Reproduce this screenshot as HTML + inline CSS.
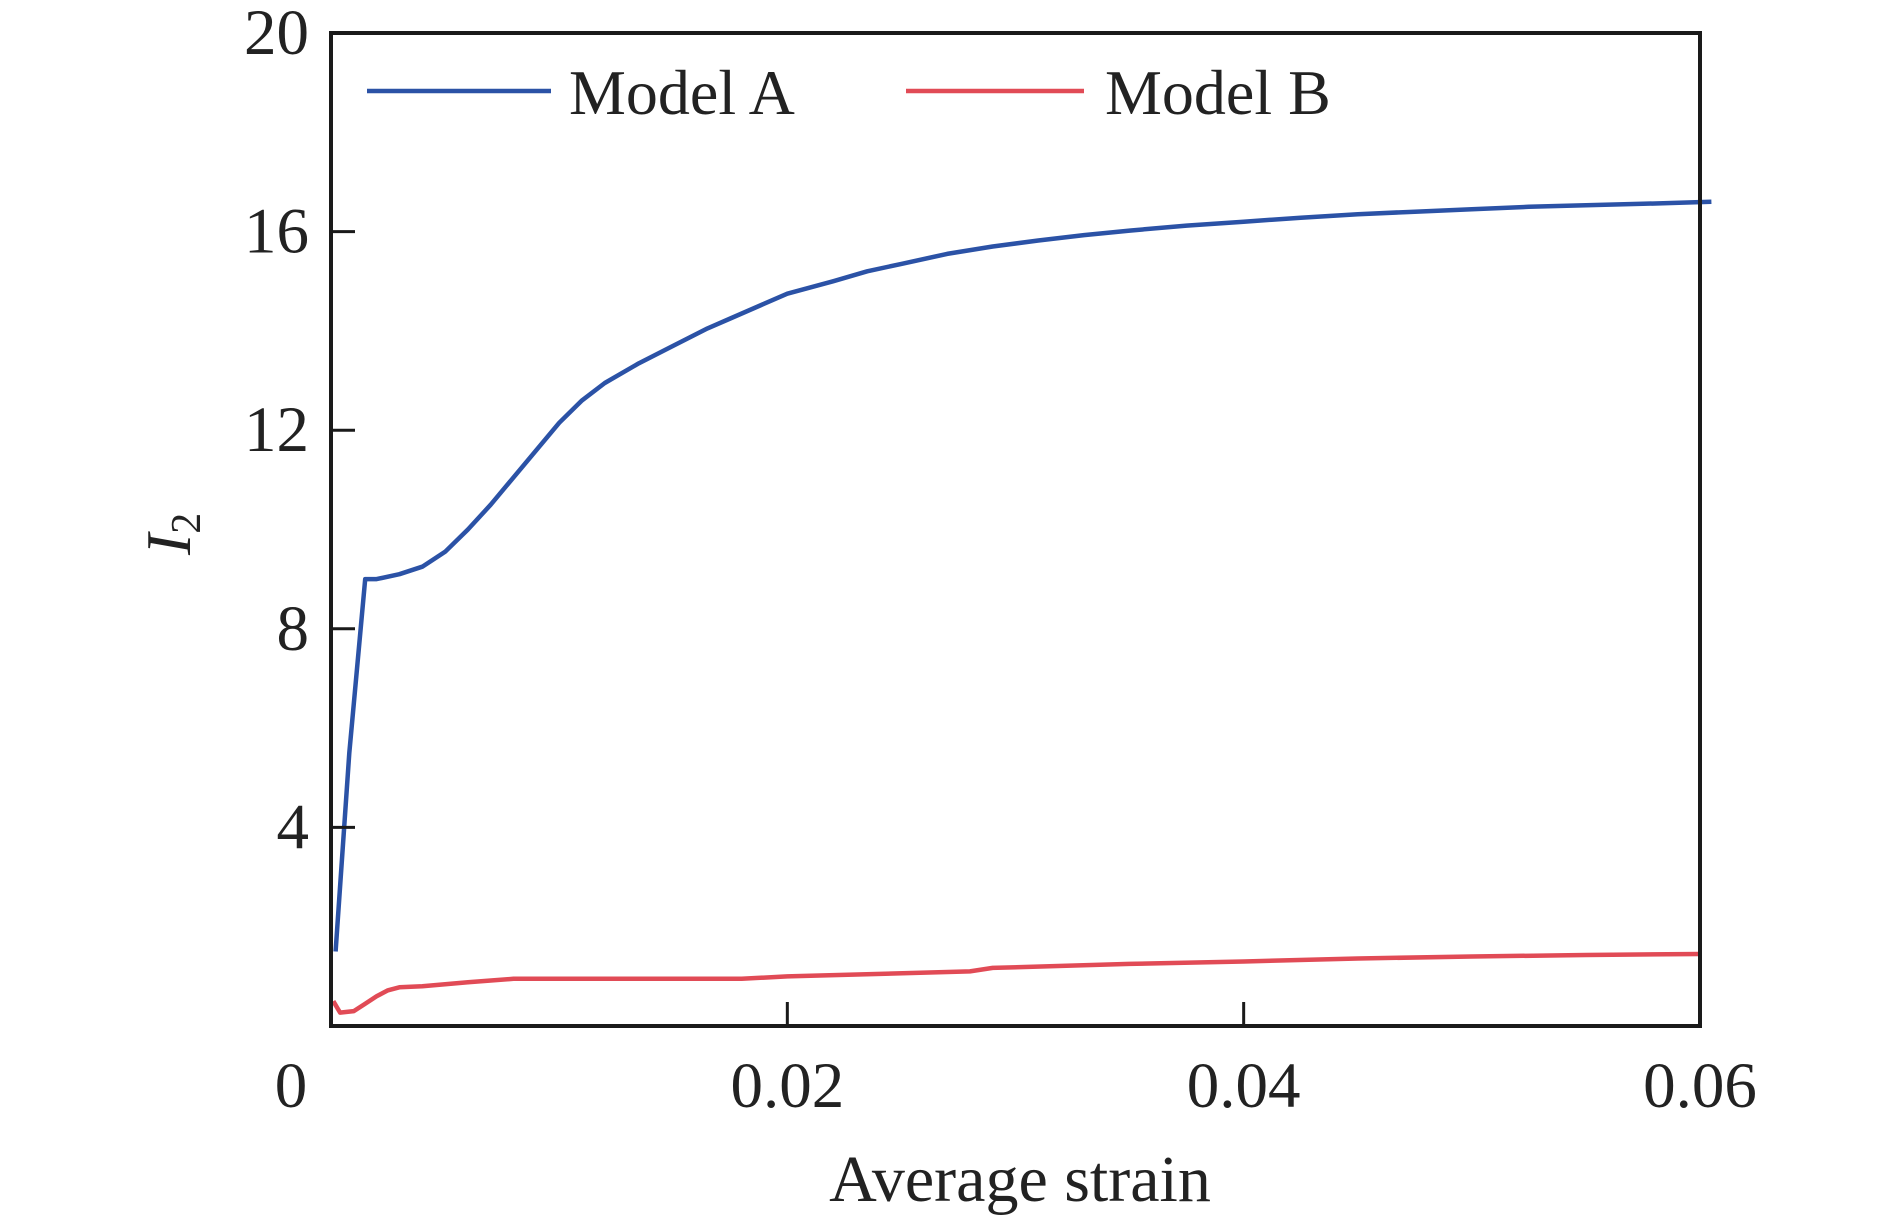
<!DOCTYPE html>
<html><head><meta charset="utf-8"><style>
html,body{margin:0;padding:0;background:#fff;}
svg{display:block;font-family:"Liberation Serif",serif;}
</style></head><body>
<svg id="chart" width="1890" height="1216" viewBox="0 0 1890 1216" xmlns="http://www.w3.org/2000/svg"></svg>
<script>
const xTicks=[0,0.02,0.04,0.06];
const xTickLabels=["0","0.02","0.04","0.06"];
const yTicks=[4,8,12,16,20];
const yTickLabels=["4","8","12","16","20"];
const strainA=[0.0002,0.0008,0.0015,0.002,0.003,0.004,0.005,0.006,0.007,0.008,0.009,0.01,0.011,0.012,0.0135,0.015,0.0165,0.0175,0.019,0.02,0.022,0.0235,0.025,0.027,0.029,0.031,0.033,0.035,0.0375,0.04,0.0425,0.045,0.0475,0.05,0.0525,0.055,0.0575,0.0605];
const modelA=[1.5,5.5,9.0,9.0,9.1,9.25,9.55,10.0,10.5,11.05,11.6,12.15,12.6,12.95,13.35,13.7,14.05,14.25,14.55,14.75,15.0,15.2,15.35,15.55,15.7,15.82,15.93,16.02,16.12,16.2,16.28,16.35,16.4,16.45,16.5,16.53,16.56,16.6];
const strainB=[0.0001,0.0004,0.001,0.0015,0.002,0.0025,0.003,0.004,0.006,0.008,0.011,0.018,0.02,0.028,0.029,0.035,0.04,0.045,0.05,0.055,0.06];
const modelB=[0.5,0.27,0.3,0.45,0.6,0.72,0.78,0.8,0.88,0.95,0.95,0.95,1.0,1.1,1.17,1.25,1.3,1.36,1.4,1.43,1.45];
const L=331,R=1700,T=33,B=1026;
const sx=v=>L+(v-0)/(0.06-0)*(R-L);
const sy=v=>B-(v-0)/(20-0)*(B-T);
const svg=document.getElementById('chart');
const NS='http://www.w3.org/2000/svg';
function mk(tag,attrs,parent){const e=document.createElementNS(NS,tag);for(const k in attrs)e.setAttribute(k,attrs[k]);(parent||svg).appendChild(e);return e;}
function line(xs,ys,color,name){
  const d=xs.map((x,i)=>(i?'L':'M')+sx(x).toFixed(1)+','+sy(ys[i]).toFixed(1)).join(' ');
  const p=mk('path',{d:d,fill:'none',stroke:color,'stroke-width':4.5,'stroke-linejoin':'round'});
  
  
}
line(strainA,modelA,'#2b52a6','model-a-line');
line(strainB,modelB,'#e14b56','model-b-line');
const f=mk('rect',{x:L,y:T,width:R-L,height:B-T,fill:'none',stroke:'#1a1a1a','stroke-width':4});


xTicks.forEach((v,i)=>{
  if(v>0&&v<0.06){const t=mk('line',{x1:sx(v),x2:sx(v),y1:B,y2:B-24,stroke:'#1a1a1a','stroke-width':3});
  
  }
  const tx=mk('text',{x:i===0?sx(v)-40:sx(v),y:1107,'font-size':65,'text-anchor':'middle',fill:'#222'});
  tx.textContent=xTickLabels[i];
  
  
});
yTicks.forEach((v,i)=>{
  if(v<20){const t=mk('line',{x1:L,x2:L+24,y1:sy(v),y2:sy(v),stroke:'#1a1a1a','stroke-width':3});
  
  }
  const tx=mk('text',{x:309,y:sy(v)+21,'font-size':65,'text-anchor':'end',fill:'#222'});
  tx.textContent=yTickLabels[i];
  
  
});
const xt=mk('text',{x:1020,y:1201,'font-size':66,'text-anchor':'middle',fill:'#222'});
xt.textContent='Average strain';


const yt=mk('text',{x:0,y:0,'font-size':64,'font-style':'italic',fill:'#222',transform:'translate(190,555) rotate(-90)'});
yt.innerHTML='I<tspan font-size="42" font-style="normal" dy="10">2</tspan>';


[[367,551,569,'#2b52a6','Model A','legend-model-a'],[906,1084,1105,'#e14b56','Model B','legend-model-b']].forEach(l=>{
  const g=mk('g',{});
  
  
  mk('line',{x1:l[0],x2:l[1],y1:91,y2:91,stroke:l[3],'stroke-width':4.5},g);
  const t=mk('text',{x:l[2],y:114,'font-size':64,fill:'#222'},g);
  t.textContent=l[4];
});
</script>
</body></html>
